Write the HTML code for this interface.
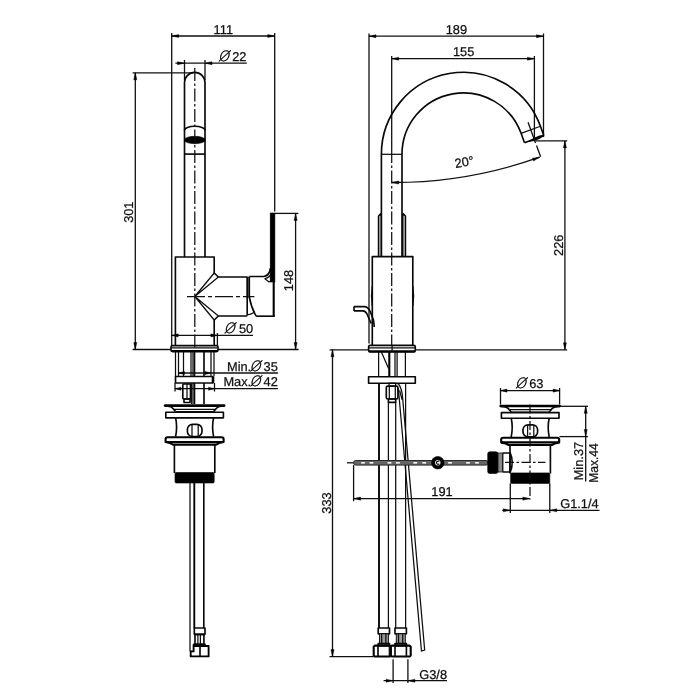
<!DOCTYPE html>
<html><head><meta charset="utf-8"><title>Faucet technical drawing</title>
<style>
html,body{margin:0;padding:0;background:#fff}
svg{display:block;will-change:transform;text-rendering:geometricPrecision}
.o{fill:none;stroke:#080808;stroke-width:1.65;stroke-linecap:butt;stroke-linejoin:round}
.o2{fill:none;stroke:#0d0d0d;stroke-width:1.25}
.o3{fill:none;stroke:#000;stroke-width:2.1;stroke-linejoin:round}
.o4{fill:none;stroke:#000;stroke-width:2.7;stroke-linecap:round}
.d{fill:none;stroke:#101010;stroke-width:1.3}
.c{fill:none;stroke:#101010;stroke-width:1.25;stroke-dasharray:13 2.5 2.5 2.5}
.c2{fill:none;stroke:#101010;stroke-width:1.25;stroke-dasharray:18 3 4 3}
.c3{fill:none;stroke:#101010;stroke-width:1.25;stroke-dasharray:9 2.5 2.5 2.5}
.a{fill:#000;stroke:#000;stroke-width:0.4}
.f{fill:#000;stroke:#000;stroke-width:0.6}
.g{fill:#888;stroke:#111;stroke-width:0.8}
.g2{fill:#999;stroke:#111;stroke-width:1}
.w{fill:#fff;stroke:none}
.o5{fill:none;stroke:#000;stroke-width:1.85;stroke-linejoin:round}
.gl{fill:none;stroke:#999;stroke-width:1}
.ow{fill:#fff;stroke:#080808;stroke-width:1.65;stroke-linejoin:round}
.rod{fill:#666;stroke:#2a2a2a;stroke-width:1}
.t{font-family:"Liberation Sans",sans-serif;font-size:12.8px;fill:#101010;stroke:#101010;stroke-width:0.25px}
.dia{font-family:"DejaVu Sans Light","DejaVu Sans","Liberation Sans",sans-serif;font-weight:200;font-style:italic;font-size:14.2px;fill:#000;stroke:#000;stroke-width:0.35px}
</style></head>
<body>
<svg width="700" height="700" viewBox="0 0 700 700">
<rect x="0" y="0" width="700" height="700" fill="#fff"/>
<line class="d" x1="171.7" y1="33" x2="171.7" y2="346"/>
<line class="d" x1="274.7" y1="33" x2="274.7" y2="211.5"/>
<line class="d" x1="171.7" y1="36" x2="274.7" y2="36"/>
<polygon class="a" points="171.70,36.00 178.70,34.45 178.70,37.55"/>
<polygon class="a" points="274.70,36.00 267.70,37.55 267.70,34.45"/>
<text class="t" x="223.3" y="33.8" text-anchor="middle">111</text>
<line class="d" x1="175.4" y1="63.2" x2="246.8" y2="63.2"/>
<line class="d" x1="184.5" y1="60" x2="184.5" y2="80"/>
<line class="d" x1="205" y1="60" x2="205" y2="80"/>
<polygon class="a" points="184.50,63.20 177.50,64.75 177.50,61.65"/>
<polygon class="a" points="205.00,63.20 212.00,61.65 212.00,64.75"/>
<text class="dia" x="223.7" y="60.6" text-anchor="middle">Ø</text>
<text class="t" x="232.2" y="60.6" text-anchor="start">22</text>
<line class="d" x1="135.3" y1="72.8" x2="135.3" y2="349.5"/>
<line class="d" x1="132.6" y1="72.8" x2="193" y2="72.8"/>
<polygon class="a" points="135.30,72.80 136.85,79.80 133.75,79.80"/>
<polygon class="a" points="135.30,349.50 133.75,342.50 136.85,342.50"/>
<text class="t" transform="translate(133.1,212.2) rotate(-90)" text-anchor="middle">301</text>
<line class="d" x1="132.6" y1="349.5" x2="171" y2="349.5"/>
<line class="d" x1="218" y1="349.5" x2="298.6" y2="349.5"/>
<line class="d" x1="295.6" y1="213.4" x2="295.6" y2="349.5"/>
<line class="d" x1="275" y1="213.4" x2="298.4" y2="213.4"/>
<polygon class="a" points="295.60,213.40 297.15,220.40 294.05,220.40"/>
<polygon class="a" points="295.60,349.50 294.05,342.50 297.15,342.50"/>
<text class="t" transform="translate(293.3,280.5) rotate(-90)" text-anchor="middle">148</text>
<path class="o" d="M184.5,257 L184.5,82.6 A10.25,10.25 0 0 1 205,82.6 L205,257"/>
<path class="o" d="M184.5,130.2 A10.25,3.9 0 0 1 205,130.2"/>
<ellipse class="f" cx="194.8" cy="140" rx="10.6" ry="3.7"/>
<line class="o" x1="184.5" y1="154.1" x2="205" y2="154.1"/>
<line class="c" x1="194.8" y1="68" x2="194.8" y2="350"/>
<path class="o" d="M175.4,346 L175.4,257 L214.2,257 L214.2,273 L218.4,277 L247.2,277"/>
<path class="o" d="M247.2,316 L218.4,316 L214.2,320 L214.2,346"/>
<path class="o2" d="M214.2,273 L194.8,296.5 L218.4,277 M214.2,320 L194.8,296.5 L218.4,316"/>
<line class="c2" x1="187" y1="296.6" x2="254.4" y2="296.6"/>
<rect class="g" x="247.2" y="277" width="2.1" height="20" rx="0"/>
<line class="o" x1="247.2" y1="277" x2="247.2" y2="315.5"/>
<line class="o" x1="249.3" y1="277" x2="249.3" y2="297"/>
<path class="o" d="M249.3,297 Q251,307 256.2,316.2"/>
<path class="o2" d="M247.2,314.8 Q251,314.8 253.9,312.6"/>
<path class="o" d="M249.3,276.5 L263.7,276.5 Q269.8,275.5 270.3,268.4"/>
<path class="o2" d="M264.6,278.6 Q270.5,277.5 272,272 M264.6,278.6 L268.8,281.8 L272.5,281"/>
<path class="o" d="M256.2,316.2 L274.8,316.2"/>
<rect class="f" x="270.2" y="213" width="4.7" height="69" rx="0"/>
<line class="o3" x1="273.7" y1="281" x2="273.7" y2="316.2"/>
<rect class="o" x="171" y="345.6" width="47" height="6.0" rx="1.5"/>
<line class="o3" x1="171.5" y1="351" x2="217.5" y2="351"/>
<line class="o2" x1="171.5" y1="347.8" x2="217.5" y2="347.8"/>
<line class="d" x1="171.7" y1="335.4" x2="253" y2="335.4"/>
<line class="d" x1="217.4" y1="333" x2="217.4" y2="346"/>
<polygon class="a" points="171.70,335.40 178.20,333.85 178.20,336.95"/>
<polygon class="a" points="217.40,335.40 210.90,336.95 210.90,333.85"/>
<text class="dia" x="229.4" y="333" text-anchor="middle">Ø</text>
<text class="t" x="238.9" y="333" text-anchor="start">50</text>
<line class="o2" x1="175.5" y1="352" x2="175.5" y2="376.5"/>
<line class="o2" x1="178.5" y1="352" x2="178.5" y2="376.5"/>
<line class="o2" x1="211" y1="352" x2="211" y2="376.5"/>
<line class="o2" x1="214" y1="352" x2="214" y2="376.5"/>
<line class="o2" x1="183.5" y1="352" x2="183.5" y2="376.5"/>
<line class="o2" x1="191" y1="352" x2="191" y2="376.5"/>
<line class="o" x1="194.5" y1="352" x2="194.5" y2="404"/>
<line class="o2" x1="193" y1="352" x2="193" y2="404"/>
<line class="o" x1="204" y1="352" x2="204" y2="404"/>
<line class="d" x1="178.5" y1="373" x2="277.9" y2="373"/>
<polygon class="a" points="178.50,373.00 184.50,371.45 184.50,374.55"/>
<polygon class="a" points="211.00,373.00 205.00,374.55 205.00,371.45"/>
<text class="t" x="227" y="370.6" text-anchor="start">Min.</text>
<text class="dia" x="255.0" y="370.6" text-anchor="middle">Ø</text>
<text class="t" x="263.6" y="370.6" text-anchor="start">35</text>
<rect class="ow" x="175.5" y="376.5" width="37.5" height="6.5" rx="0"/>
<rect class="f" x="212" y="377.5" width="2" height="5.0" rx="0"/>
<line class="d" x1="175" y1="388.7" x2="277.9" y2="388.7"/>
<line class="d" x1="175" y1="383" x2="175" y2="391.5"/>
<line class="d" x1="214.5" y1="383" x2="214.5" y2="391.5"/>
<polygon class="a" points="175.00,388.70 181.00,387.15 181.00,390.25"/>
<polygon class="a" points="214.50,388.70 208.50,390.25 208.50,387.15"/>
<text class="t" x="223.4" y="386.2" text-anchor="start">Max.</text>
<text class="dia" x="255.0" y="386.2" text-anchor="middle">Ø</text>
<text class="t" x="263.6" y="386.2" text-anchor="start">42</text>
<rect class="o" x="182.8" y="384" width="7.7" height="15" rx="1"/>
<line class="o2" x1="187" y1="384" x2="187" y2="399"/>
<rect class="o" x="184" y="399" width="6" height="3.5" rx="0"/>
<line class="o2" x1="191.5" y1="383" x2="191.5" y2="404"/>
<g transform="translate(0,0)">
<path class="o4" d="M165.1,405.6 L224.1,405.6"/>
<path class="o" d="M165.1,406 Q172.1,406.3 173.6,409.3 L175.6,411.6 M224.1,406 Q217.1,406.3 215.6,409.3 L213.6,411.6"/>
<line class="o2" x1="173.6" y1="409.3" x2="215.6" y2="409.3"/>
<rect class="o" x="165.8" y="412.2" width="57.6" height="5.6" rx="0"/>
<path class="o" d="M175.6,417.6 Q177.6,427 175.6,436.6 M213.6,417.6 Q211.6,427 213.6,436.6"/>
<line class="o2" x1="175.6" y1="411.6" x2="213.6" y2="411.6"/>
<rect class="o" x="187.4" y="424.4" width="14.6" height="12.1" rx="5"/>
<line class="o2" x1="192.0" y1="425" x2="192.0" y2="436.5"/>
<line class="o2" x1="198.2" y1="425" x2="198.2" y2="436.5"/>
<path class="o3" d="M165.6,442 L165.6,439 Q165.6,437.3 167.6,437.3 L221.6,437.3 Q223.6,437.3 223.6,439 L223.6,442 L165.6,442 Z"/>
<path class="o3" d="M165.6,442 Q170.6,443 173.1,444.6 L216.1,444.6 Q218.6,443 223.6,442"/>
<path class="o" d="M174.4,444.6 L174.4,473 M214.8,444.6 L214.8,473"/>
<rect class="f" x="175.0" y="472.5" width="39.2" height="10.5" rx="1.2"/>
</g>
<line class="o2" x1="190" y1="483" x2="190" y2="651.4"/>
<line class="o5" x1="194.3" y1="483" x2="194.3" y2="628"/>
<line class="o" x1="203.8" y1="483" x2="203.8" y2="628"/>
<rect class="o" x="194.3" y="628" width="10.7" height="6.3" rx="0"/>
<rect class="o" x="195" y="634.3" width="8.9" height="10.0" rx="0"/>
<line class="o2" x1="197.9" y1="634.3" x2="197.9" y2="644.3"/>
<line class="o2" x1="200.4" y1="634.3" x2="200.4" y2="644.3"/>
<rect class="o" x="193.6" y="644.3" width="11.4" height="1.7" rx="0"/>
<path class="o5" d="M190,651.4 L193.6,651.4 L193.6,646 L208.6,646 L208.6,656.4 L190.7,656.4 L190.7,651.4"/>
<line class="o" x1="200" y1="646" x2="200" y2="656.4"/>
<line class="d" x1="369" y1="33.5" x2="369" y2="343.5"/>
<line class="d" x1="543.5" y1="33.5" x2="543.5" y2="137"/>
<line class="d" x1="369" y1="36.2" x2="543.5" y2="36.2"/>
<polygon class="a" points="369.00,36.20 376.00,34.65 376.00,37.75"/>
<polygon class="a" points="543.50,36.20 536.50,37.75 536.50,34.65"/>
<text class="t" x="456.4" y="33.9" text-anchor="middle">189</text>
<line class="d" x1="391.7" y1="56" x2="391.7" y2="150"/>
<line class="d" x1="534.4" y1="56" x2="534.4" y2="141.2"/>
<line class="d" x1="391.7" y1="58.7" x2="534.4" y2="58.7"/>
<polygon class="a" points="391.70,58.70 398.70,57.15 398.70,60.25"/>
<polygon class="a" points="534.40,58.70 527.40,60.25 527.40,57.15"/>
<text class="t" x="463.6" y="55.7" text-anchor="middle">155</text>
<path class="o" d="M381.40,257 L381.40,154.3 A82,82 0 0 1 540.45,126.25 L543.87,135.65"/>
<path class="o" d="M402.00,257 L402.00,154.3 A61.4,61.4 0 0 1 521.10,133.30 L524.52,142.70"/>
<line class="o2" x1="381.4" y1="154.3" x2="402.0" y2="154.3"/>
<line class="o2" x1="521.1" y1="133.3" x2="540.45" y2="126.25"/>
<path class="o" d="M524.52,142.70 L543.87,135.65"/>
<polygon class="f" points="528.88,141.43 533.85,138.23 539.56,135.84 543.12,135.39 540.41,138.19 534.71,140.58"/>
<line class="d" x1="528.04" y1="122.26" x2="535.56" y2="142.93"/>
<line class="d" x1="536.52" y1="145.56" x2="540.63" y2="156.84"/>
<path class="d" d="M391.7,182.5 A434.5,434.5 0 0 0 539.6,157.2"/>
<polygon class="a" points="391.70,182.50 398.70,180.95 398.70,184.05"/>
<polygon class="a" points="539.60,157.20 533.55,161.05 532.49,158.14"/>
<text class="t" transform="translate(465,166.3) rotate(-10)" text-anchor="middle">20°</text>
<line class="c" x1="391.7" y1="150" x2="391.7" y2="346"/>
<path class="o" d="M381.2,256.6 L381.2,213.4 M378.6,256.6 L378.6,216 L381.2,213.4"/>
<path class="o" d="M402.8,256.6 L402.8,213.4 M405.4,256.6 L405.4,216 L402.8,213.4"/>
<line class="gl" x1="379.9" y1="216" x2="379.9" y2="256.6"/>
<line class="gl" x1="404.1" y1="216" x2="404.1" y2="256.6"/>
<path class="o" d="M372.3,345 L372.3,256.6 L412.8,256.6 L412.8,345"/>
<path class="o2" d="M372.3,286 Q370.6,296 372.3,306 M412.8,286 Q414.5,296 412.8,306"/>
<path class="o" d="M354,306.6 L354,310.9 M354,306.6 L364,306.6 Q368,306.6 370,311 L373.5,320 L374.3,327 M354,310.9 L363,310.9 Q365.5,311 367,314 L371.2,323.5"/>
<rect class="o" x="368.6" y="345.4" width="46.7" height="6.6" rx="1.5"/>
<line class="o3" x1="369" y1="351.2" x2="415" y2="351.2"/>
<line class="o2" x1="369" y1="347.8" x2="415" y2="347.8"/>
<line class="o2" x1="392.1" y1="345.4" x2="392.1" y2="352"/>
<line class="d" x1="329.5" y1="349.8" x2="368.6" y2="349.8"/>
<line class="d" x1="415.3" y1="349.8" x2="567.2" y2="349.8"/>
<line class="d" x1="332.5" y1="349.8" x2="332.5" y2="656.6"/>
<polygon class="a" points="332.50,349.80 334.05,356.80 330.95,356.80"/>
<polygon class="a" points="332.50,656.60 330.95,649.60 334.05,649.60"/>
<line class="d" x1="329.5" y1="656.6" x2="373.6" y2="656.6"/>
<text class="t" transform="translate(330.7,503) rotate(-90)" text-anchor="middle">333</text>
<line class="d" x1="564.9" y1="140.9" x2="564.9" y2="349.8"/>
<line class="d" x1="535.5" y1="140.9" x2="567.2" y2="140.9"/>
<polygon class="a" points="564.90,140.90 566.45,147.90 563.35,147.90"/>
<polygon class="a" points="564.90,349.80 563.35,342.80 566.45,342.80"/>
<text class="t" transform="translate(562.6,245.3) rotate(-90)" text-anchor="middle">226</text>
<line class="o2" x1="378.6" y1="352" x2="378.6" y2="376.9"/>
<line class="o3" x1="389.3" y1="352" x2="389.3" y2="376.9"/>
<line class="o2" x1="395" y1="352" x2="395" y2="376.9"/>
<line class="o2" x1="397.1" y1="352" x2="397.1" y2="376.9"/>
<line class="o2" x1="405.4" y1="352" x2="405.4" y2="376.9"/>
<path class="o2" d="M381.4,352 L388.6,368.6"/>
<rect class="ow" x="368.6" y="376.7" width="46.7" height="6.5" rx="0"/>
<rect class="o" x="386.3" y="386.1" width="11.6" height="12.9" rx="1.5"/>
<line class="o2" x1="389.3" y1="386.1" x2="389.3" y2="399"/>
<line class="o2" x1="395.3" y1="386.1" x2="395.3" y2="399"/>
<rect class="o2" x="389" y="383.2" width="6.6" height="2.9" rx="0"/>
<rect class="o" x="388.4" y="399" width="7.3" height="3.4" rx="0"/>
<line class="o5" x1="379" y1="383.2" x2="379" y2="628"/>
<line class="o2" x1="388.4" y1="402.4" x2="388.4" y2="628"/>
<line class="o2" x1="395.7" y1="402.4" x2="395.7" y2="628"/>
<line class="o2" x1="405.6" y1="383.2" x2="405.6" y2="628"/>
<path class="o2" d="M398.32,388 L421.47,651 L424.68,650 L402.54,397 Q401.8,388 398.3,383.6 L396.6,383.6"/>
<path class="o2" d="M399.6,390.4 L402.1,399.9"/>
<rect class="o" x="378.2" y="628" width="11.3" height="5.8" rx="0"/>
<rect class="g2" x="379.5" y="633.8" width="8.9" height="9.8" rx="0"/>
<line class="o2" x1="381.65000000000003" y1="633.8" x2="381.65000000000003" y2="643.6"/>
<line class="o2" x1="385.85" y1="633.8" x2="385.85" y2="643.6"/>
<rect class="o" x="378.2" y="643.6" width="11.3" height="2.0" rx="0"/>
<rect class="o" x="395" y="628" width="11.4" height="5.8" rx="0"/>
<rect class="g2" x="396.3" y="633.8" width="9.0" height="9.8" rx="0"/>
<line class="o2" x1="398.5" y1="633.8" x2="398.5" y2="643.6"/>
<line class="o2" x1="402.7" y1="633.8" x2="402.7" y2="643.6"/>
<rect class="o" x="395" y="643.6" width="11.4" height="2.0" rx="0"/>
<path class="o3" d="M374.8,645.6 L389.6,645.6 L390.7,646.8 L390.7,655.4 L389.6,656.5 L374.8,656.5 L373.7,655.4 L373.7,646.8 Z"/>
<path class="o3" d="M391.8,645.6 L409.6,645.6 L410.7,646.8 L410.7,655.4 L409.6,656.5 L391.8,656.5 L390.7,655.4 L390.7,646.8 Z"/>
<line class="o" x1="378" y1="645.6" x2="378" y2="656.5"/>
<line class="o2" x1="389.3" y1="645.6" x2="389.3" y2="656.5"/>
<line class="o" x1="395" y1="645.6" x2="395" y2="656.5"/>
<line class="o" x1="406.4" y1="645.6" x2="406.4" y2="656.5"/>
<line class="d" x1="393.1" y1="659.3" x2="393.1" y2="683"/>
<line class="d" x1="407.9" y1="659.3" x2="407.9" y2="683"/>
<line class="d" x1="383.6" y1="680.7" x2="447" y2="680.7"/>
<polygon class="a" points="393.10,680.70 386.10,682.25 386.10,679.15"/>
<polygon class="a" points="407.90,680.70 414.90,679.15 414.90,682.25"/>
<text class="t" x="419.3" y="678.6" text-anchor="start">G3/8</text>
<line class="d" x1="347" y1="462.8" x2="353.6" y2="462.8"/>
<rect class="rod" x="353.6" y="460.5" width="134.4" height="4.6" rx="2"/>
<rect class="w" x="361.1" y="462.1" width="3.8" height="1.5" rx="0"/>
<rect class="w" x="369.6" y="462.1" width="3.8" height="1.5" rx="0"/>
<rect class="w" x="387.6" y="462.1" width="3.8" height="1.5" rx="0"/>
<rect class="w" x="396.0" y="462.1" width="3.8" height="1.5" rx="0"/>
<rect class="w" x="413.3" y="462.1" width="3.8" height="1.5" rx="0"/>
<rect class="w" x="422.3" y="462.1" width="3.8" height="1.5" rx="0"/>
<rect class="w" x="448.1" y="462.1" width="3.8" height="1.5" rx="0"/>
<rect class="w" x="466.1" y="462.1" width="3.8" height="1.5" rx="0"/>
<rect class="w" x="475.1" y="462.1" width="3.8" height="1.5" rx="0"/>
<circle class="f" cx="437.8" cy="462.7" r="6.3"/><circle class="w" cx="437.8" cy="462.7" r="2.7"/>
<path class="o2" d="M439.3,461.6 A1.6,1.6 0 1 0 439.3,463.8"/>
<line class="d" x1="353.6" y1="465.1" x2="353.6" y2="501.2"/>
<line class="d" x1="353.6" y1="498.6" x2="529.8" y2="498.6"/>
<polygon class="a" points="353.60,498.60 360.60,497.05 360.60,500.15"/>
<polygon class="a" points="529.80,498.60 522.80,500.15 522.80,497.05"/>
<text class="t" x="442" y="496" text-anchor="middle">191</text>
<g transform="translate(0,0.4)">
<path class="o4" d="M500.7,405.6 L559.7,405.6"/>
<path class="o" d="M500.7,406 Q507.7,406.3 509.2,409.3 L511.2,411.6 M559.7,406 Q552.7,406.3 551.2,409.3 L549.2,411.6"/>
<line class="o2" x1="509.2" y1="409.3" x2="551.2" y2="409.3"/>
<rect class="o" x="501.4" y="412.2" width="57.6" height="5.6" rx="0"/>
<path class="o" d="M511.2,417.6 Q513.2,427 511.2,436.6 M549.2,417.6 Q547.2,427 549.2,436.6"/>
<line class="o2" x1="511.2" y1="411.6" x2="549.2" y2="411.6"/>
<rect class="o" x="523.0" y="424.4" width="14.6" height="12.1" rx="5"/>
<line class="o2" x1="527.6" y1="425" x2="527.6" y2="436.5"/>
<line class="o2" x1="533.8" y1="425" x2="533.8" y2="436.5"/>
<path class="o3" d="M501.2,442 L501.2,439 Q501.2,437.3 503.2,437.3 L557.2,437.3 Q559.2,437.3 559.2,439 L559.2,442 L501.2,442 Z"/>
<path class="o3" d="M501.2,442 Q506.2,443 508.7,444.6 L551.7,444.6 Q554.2,443 559.2,442"/>
<path class="o" d="M510.0,444.6 L510.0,473 M550.4,444.6 L550.4,473"/>
<rect class="f" x="510.6" y="472.5" width="39.2" height="10.5" rx="1.2"/>
</g>
<line class="c3" x1="530" y1="404.5" x2="530" y2="499.5"/>
<line class="c3" x1="505" y1="462.4" x2="545.5" y2="462.4"/>
<path class="o" d="M510,452.3 Q514.5,462.4 510,472.7"/>
<rect class="o" x="502.6" y="453" width="7.4" height="19" rx="1"/>
<rect class="g" x="497.8" y="453" width="4.8" height="19" rx="0"/>
<rect class="f" x="487.7" y="451.8" width="10.2" height="21.7" rx="2"/>
<line class="d" x1="500.5" y1="388" x2="500.5" y2="404.5"/>
<line class="d" x1="559.6" y1="388" x2="559.6" y2="404.5"/>
<line class="d" x1="500.5" y1="390.6" x2="559.6" y2="390.6"/>
<polygon class="a" points="500.50,390.60 507.00,389.05 507.00,392.15"/>
<polygon class="a" points="559.60,390.60 553.10,392.15 553.10,389.05"/>
<text class="dia" x="520.5" y="388.4" text-anchor="middle">Ø</text>
<text class="t" x="529.2" y="388.4" text-anchor="start">63</text>
<line class="d" x1="560" y1="406.3" x2="588" y2="406.3"/>
<line class="d" x1="559.5" y1="436.6" x2="588" y2="436.6"/>
<line class="d" x1="585.7" y1="406.3" x2="585.7" y2="481.5"/>
<polygon class="a" points="585.70,406.30 587.25,413.30 584.15,413.30"/>
<polygon class="a" points="585.70,436.60 584.15,429.60 587.25,429.60"/>
<text class="t" transform="translate(583.4,480.3) rotate(-90)" text-anchor="start">Min.37</text>
<text class="t" transform="translate(598.2,482.8) rotate(-90)" textLength="39.6" lengthAdjust="spacingAndGlyphs">Max.44</text>
<line class="d" x1="510.3" y1="483.2" x2="510.3" y2="513"/>
<line class="d" x1="549.8" y1="483.2" x2="549.8" y2="513"/>
<line class="d" x1="502.3" y1="510.3" x2="599.5" y2="510.3"/>
<polygon class="a" points="510.30,510.30 503.30,511.85 503.30,508.75"/>
<polygon class="a" points="549.80,510.30 556.80,508.75 556.80,511.85"/>
<text class="t" x="560.2" y="508.2" text-anchor="start">G1.1/4</text>
</svg>
</body></html>
